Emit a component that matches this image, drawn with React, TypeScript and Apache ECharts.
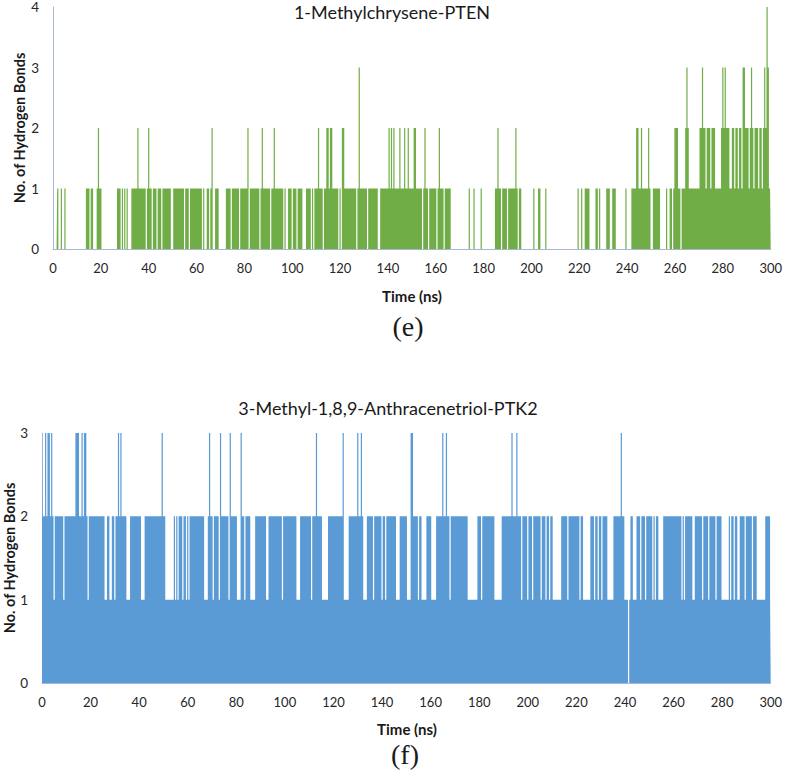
import { useEffect, useRef } from "react";
import * as echarts from "echarts";

// Hydrogen-bond counts, one digit per 0.5 ns sample (each row = 20 ns).
const methylchryseneRows: string[] = [
  "0000100100" + "1000000000" + "0000000011" + "1011000121",
  "1000000000" + "0000111010" + "1010001111" + "1211111101",
  "2110111011" + "1011111110" + "0111111111" + "0111011111",
  "1111101001" + "1012001110" + "0000011110" + "1111110111",
  "1112011111" + "1110121111" + "1101121111" + "1110100111",
  "0111011110" + "0011110101" + "1121110112" + "2122111110",
  "1022111111" + "1111013111" + "1110111111" + "1100111111",
  "1212121111" + "2111211211" + "1122111110" + "1211011111",
  "1012111011" + "1110000000" + "0000000010" + "0010000010",
  "0000000000" + "1121101111" + "0111111210" + "1100000000",
  "0010001100" + "0010000000" + "0000000000" + "0000000001",
  "0010011110" + "0000110100" + "0001110011" + "1000000001",
  "0000111122" + "1121111121" + "0011111100" + "0001001101",
  "2221101112" + "3211111111" + "1223221222" + "1222111112",
  "3232221122" + "1221221332" + "2212321222" + "1221232431",
];
const methylchryseneLast = "1";

const anthracenetriolRows: string[] = [
  "3223233232" + "1222222212" + "2222222233" + "3223233212",
  "2222222222" + "2211221122" + "1223232222" + "1112222222",
  "2211122222" + "2222222223" + "2211111112" + "1212221221",
  "2122222222" + "2222111232" + "2122221322" + "2222132222",
  "2111322122" + "2211112222" + "2222211222" + "2222222212",
  "2222222222" + "1112222222" + "2212223222" + "2111112222",
  "2222222231" + "1112222222" + "3223211122" + "2221222222",
  "1221222222" + "2211122222" + "2111332222" + "1221111222",
  "2111122222" + "3223221222" + "2222222222" + "2111111112",
  "2212222222" + "2221111112" + "2222222322" + "2322212222",
  "1222122222" + "2122212212" + "2111111122" + "2221222222",
  "2221221111" + "1122212212" + "2122221111" + "1222222322",
  "1110122111" + "2221222122" + "2221212211" + "1122222222",
  "2222222121" + "2222221122" + "2222122221" + "2222212222",
  "1111112122" + "1221122221" + "2222212221" + "1111112222",
];
const anthracenetriolLast = "1";

const timeStep = 0.5; // ns per sample
const timeMax = 300;
const timeInterval = 20;
const topTitle = "1-Methylchrysene-PTEN";
const bottomTitle = "3-Methyl-1,8,9-Anthracenetriol-PTK2";
const xTitle = "Time (ns)";
const yTitle = "No. of Hydrogen Bonds";
const panelLabels = ["(e)", "(f)"];
const yMaxes = [4, 3];

function toSeries(rows: string[], last: string): [number, number][] {
  const s = rows.join("") + last;
  return Array.from(s).map((c, i) => [i * timeStep, Number(c)]);
}

const LABEL_FONT = "Lato, 'Open Sans', sans-serif";
const SERIF_FONT = "'Liberation Serif', 'Times New Roman', serif";
const AXIS_LINE = "#aab6d8";

export default function App() {
  const ref = useRef<HTMLDivElement>(null);

  useEffect(() => {
    if (!ref.current) return;
    const chart = echarts.init(ref.current, undefined, { renderer: "svg" });
    const eData = toSeries(methylchryseneRows, methylchryseneLast);
    const fData = toSeries(anthracenetriolRows, anthracenetriolLast);

    const grids = [
      { left: 53, top: 7, width: 720, height: 242 },
      { left: 42, top: 433, width: 731, height: 250 },
    ];

    const xAxis = grids.map((_, i) => ({
      gridIndex: i,
      type: "value" as const,
      min: 0,
      max: timeMax,
      interval: timeInterval,
      axisLine: { show: true, onZero: false, lineStyle: { color: AXIS_LINE, width: 1 } },
      axisTick: { show: false },
      splitLine: { show: false },
      axisLabel: { color: "#262626", fontSize: 13, fontFamily: LABEL_FONT, margin: 12 },
    }));
    const yAxis = grids.map((_, i) => ({
      gridIndex: i,
      type: "value" as const,
      min: 0,
      max: yMaxes[i],
      interval: 1,
      axisLine: { show: true, lineStyle: { color: AXIS_LINE, width: 1 } },
      axisTick: { show: false },
      splitLine: { show: false },
      axisLabel: { color: "#262626", fontSize: 13.5, fontFamily: LABEL_FONT, margin: 14 },
    }));

    const text = (
      x: number,
      y: number,
      t: string,
      font: string,
      rotation = 0
    ) => ({
      type: "text" as const,
      x,
      y,
      rotation,
      style: {
        text: t,
        font,
        fill: "#1a1a1a",
        align: "center" as const,
        verticalAlign: "middle" as const,
      },
      silent: true,
    });

    chart.setOption({
      animation: false,
      backgroundColor: "#ffffff",
      grid: grids,
      xAxis,
      yAxis,
      series: [
        {
          type: "line",
          xAxisIndex: 0,
          yAxisIndex: 0,
          data: eData,
          step: "middle",
          symbol: "none",
          showSymbol: false,
          lineStyle: { width: 0, color: "#70ad47" },
          areaStyle: { color: "#70ad47", opacity: 1 },
          silent: true,
        },
        {
          type: "line",
          xAxisIndex: 1,
          yAxisIndex: 1,
          data: fData,
          step: "middle",
          symbol: "none",
          showSymbol: false,
          lineStyle: { width: 0, color: "#5b9bd5" },
          areaStyle: { color: "#5b9bd5", opacity: 1 },
          silent: true,
        },
      ],
      graphic: [
        text(392, 12, topTitle, `18px ${LABEL_FONT}`),
        text(412, 296, xTitle, `bold 15px ${LABEL_FONT}`),
        text(19, 128, yTitle, `bold 14.5px ${LABEL_FONT}`, Math.PI / 2),
        text(408, 326, panelLabels[0], `28px ${SERIF_FONT}`),
        text(388, 408, bottomTitle, `18px ${LABEL_FONT}`),
        text(407, 729, xTitle, `bold 15px ${LABEL_FONT}`),
        text(9, 558, yTitle, `bold 14.5px ${LABEL_FONT}`, Math.PI / 2),
        text(405, 754, panelLabels[1], `28px ${SERIF_FONT}`),
      ],
    });

    return () => chart.dispose();
  }, []);

  return (
    <div
      ref={ref}
      style={{ position: "absolute", left: 0, top: 0, width: 785, height: 780, background: "#fff" }}
    />
  );
}
